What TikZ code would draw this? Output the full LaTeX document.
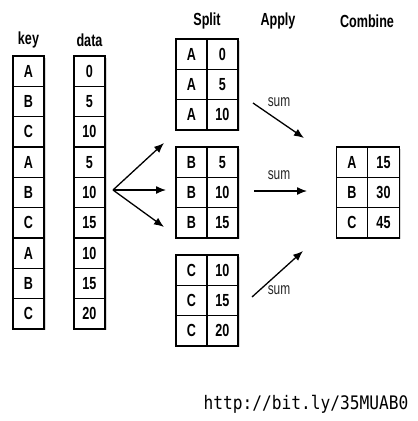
\documentclass[tikz,border=0pt]{standalone}
\usepackage{fontspec}
\setmainfont{Liberation Sans}[FakeStretch=0.72]
\newfontfamily\urlfont{DejaVu Sans Mono}
\usetikzlibrary{arrows.meta,shadows}
\begin{document}
\begin{tikzpicture}[x=1pt,y=-1pt,
  cell/.style={draw, line width=1.3pt, fill=white, minimum width=31pt, minimum height=30.33pt,
    inner sep=0pt, font=\fontsize{17.5}{19}\selectfont\bfseries,
    drop shadow={opacity=0.3, shadow xshift=1.5pt, shadow yshift=-1.5pt}},
  title/.style={font=\fontsize{17.5}{19}\selectfont\bfseries, inner sep=0pt},
  sumlbl/.style={font=\fontsize{16.5}{18}\selectfont, text=black!85, inner sep=0pt},
  arr/.style={line width=1.3pt, -{Latex[length=10pt,width=8pt]}}]
\useasboundingbox (0,0) rectangle (418,421);
% titles
\node[title] (tkey) at (28.5,40) {key};
\node[title] (tdata) at (89.5,40) {data};
\node[title] (tsplit) at (207,21) {Split};
\node[title] (tapply) at (278,21) {Apply};
\node[title] (tcomb) at (367,21) {Combine};
% key and data columns
\foreach \kk/\dd [count=\i] in {A/0,B/5,C/10,A/5,B/10,C/15,A/10,B/15,C/20}{
  \node[cell] (key\i) at (28.5,{56+(\i-0.5)*30.33}) {\kk};
  \node[cell] (data\i) at (89.5,{56+(\i-0.5)*30.33}) {\dd};
}
% split groups
\foreach \g/\ty/\va/\vb/\vc in {A/39/0/5/10, B/147/5/10/15, C/255/10/15/20}{
  \foreach \val [count=\r] in {\va,\vb,\vc}{
    \node[cell] (s\g k\r) at (191.5,{\ty+(\r-0.5)*30.33}) {\g};
    \node[cell] (s\g v\r) at (222.5,{\ty+(\r-0.5)*30.33}) {\val};
  }
}
% combine
\foreach \kk/\val [count=\r] in {A/15,B/30,C/45}{
  \node[cell] (ck\r) at (352,{147+(\r-0.5)*30.33}) {\kk};
  \node[cell, minimum width=32pt] (cv\r) at (383.5,{147+(\r-0.5)*30.33}) {\val};
}
% fork arrows
\coordinate (fork) at (113,190);
\coordinate (fup) at (164,143);
\coordinate (fmid) at (166,190);
\coordinate (fdown) at (164,227);
\draw[arr] (fork) -- (fup);
\draw[arr] (fork) -- (fmid);
\draw[arr] (fork) -- (fdown);
% apply arrows
\coordinate (a1s) at (253,103);
\coordinate (a1e) at (304,138);
\coordinate (a2s) at (254,191);
\coordinate (a2e) at (307,191);
\coordinate (a3s) at (252,297);
\coordinate (a3e) at (303,251);
\draw[arr] (a1s) -- (a1e);
\draw[arr] (a2s) -- (a2e);
\draw[arr] (a3s) -- (a3e);
\node[sumlbl] (sum1) at (279,102) {sum};
\node[sumlbl] (sum2) at (279,175) {sum};
\node[sumlbl] (sum3) at (279,290) {sum};
% url
\node[inner sep=0pt, yscale=1.15, font=\urlfont\fontsize{16.2}{18}\selectfont] (url) at (306,404) {http://bit.ly/35MUAB0};
\end{tikzpicture}
\end{document}
